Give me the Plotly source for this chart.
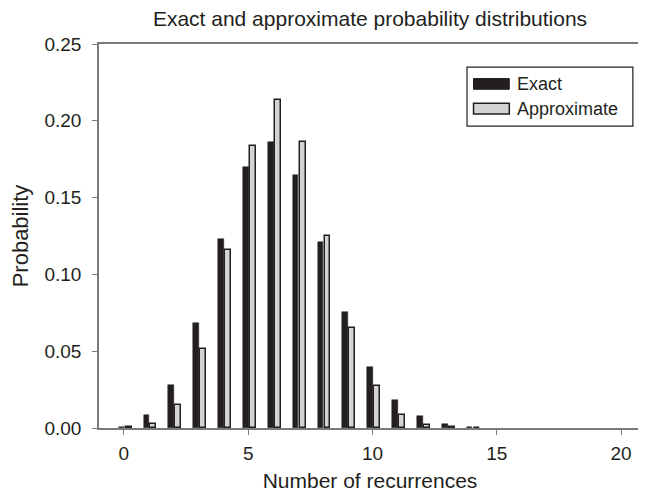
import plotly.graph_objects as go

# Data
recurrences = list(range(21))
exact = [0.0005, 0.0083, 0.0278, 0.0686, 0.1233, 0.1702, 0.1860, 0.1650, 0.1213,
         0.0753, 0.0395, 0.0180, 0.0076, 0.0024, 0.0005, 0, 0, 0, 0, 0, 0]
approximate = [0.0008, 0.0029, 0.0148, 0.0515, 0.1157, 0.1836, 0.2133, 0.1864, 0.1253,
               0.0653, 0.0271, 0.0087, 0.0022, 0.0007, 0.0002, 0, 0, 0, 0, 0, 0]
series_names = ["Exact", "Approximate"]
x_ticks = [0, 5, 10, 15, 20]
y_ticks = [0.0, 0.05, 0.10, 0.15, 0.20, 0.25]

DARK = "#231f20"
LIGHT = "#d2d3d5"
AXIS = "#7a7a7a"
FONT = "Liberation Sans, Arial, sans-serif"

fig = go.Figure()
fig.add_trace(go.Bar(
    x=recurrences, y=exact, name=series_names[0],
    width=0.23, offset=-0.21,
    marker=dict(color=DARK, line=dict(color=DARK,
                                      width=[0.5 if v > 0 else 0 for v in exact])),
    showlegend=False,
))
fig.add_trace(go.Bar(
    x=recurrences, y=approximate, name=series_names[1],
    width=0.24, offset=0.07,
    marker=dict(color=LIGHT, line=dict(color=DARK,
                                       width=[1.5 if v > 0 else 0 for v in approximate])),
    showlegend=False,
))

# Custom legend (box, swatches, labels)
shapes = [
    dict(type="rect", xref="paper", yref="paper", x0=0.679, x1=0.985, y0=0.786, y1=0.940,
         line=dict(color=DARK, width=1.2), fillcolor="white", layer="above"),
    dict(type="rect", xref="paper", yref="paper", x0=0.691, x1=0.757, y0=0.882, y1=0.910,
         line=dict(color=DARK, width=1), fillcolor=DARK, layer="above"),
    dict(type="rect", xref="paper", yref="paper", x0=0.691, x1=0.757, y0=0.818, y1=0.846,
         line=dict(color=DARK, width=1.5), fillcolor=LIGHT, layer="above"),
]
annotations = [
    dict(text=series_names[0], xref="paper", yref="paper", x=0.7675, y=0.896,
         xanchor="left", yanchor="middle", showarrow=False,
         font=dict(size=18, color=DARK, family=FONT)),
    dict(text=series_names[1], xref="paper", yref="paper", x=0.7675, y=0.831,
         xanchor="left", yanchor="middle", showarrow=False,
         font=dict(size=18, color=DARK, family=FONT)),
]

# page has an 8px body margin, so the figure is sized to fit the window
W, H = 638, 486
fig.update_layout(
    width=W, height=H,
    margin=dict(l=91, r=5, t=36, b=66, autoexpand=False),
    paper_bgcolor="white", plot_bgcolor="white",
    font=dict(family=FONT, color=DARK, size=19),
    title=dict(text="Exact and approximate probability distributions",
               x=0.5, xref="paper", xanchor="center",
               y=1 - 11 / H, yref="container", yanchor="middle",
               font=dict(size=21, color=DARK, family=FONT)),
    bargap=0, barmode="overlay",
    shapes=shapes, annotations=annotations,
    xaxis=dict(
        range=[-1, 20.8], tickvals=x_ticks, ticktext=[str(v) for v in x_ticks],
        ticks="outside", ticklen=5, tickwidth=1.2, tickcolor=AXIS,
        showline=True, linecolor=AXIS, linewidth=1.5, mirror=True,
        showgrid=False, zeroline=False, ticklabelstandoff=2,
        tickfont=dict(size=19, color=DARK),
        title=dict(text="Number of recurrences", font=dict(size=21, color=DARK), standoff=11),
    ),
    yaxis=dict(
        range=[0, 0.25], tickvals=y_ticks, ticktext=[f"{v:.2f}" for v in y_ticks],
        ticks="outside", ticklen=5, tickwidth=1.2, tickcolor=AXIS,
        showline=True, linecolor=AXIS, linewidth=1.5,
        showgrid=False, zeroline=False, ticklabelstandoff=7,
        tickfont=dict(size=19, color=DARK),
        title=dict(text="Probability", font=dict(size=22, color=DARK), standoff=10),
    ),
)

fig.write_html("out.html")
